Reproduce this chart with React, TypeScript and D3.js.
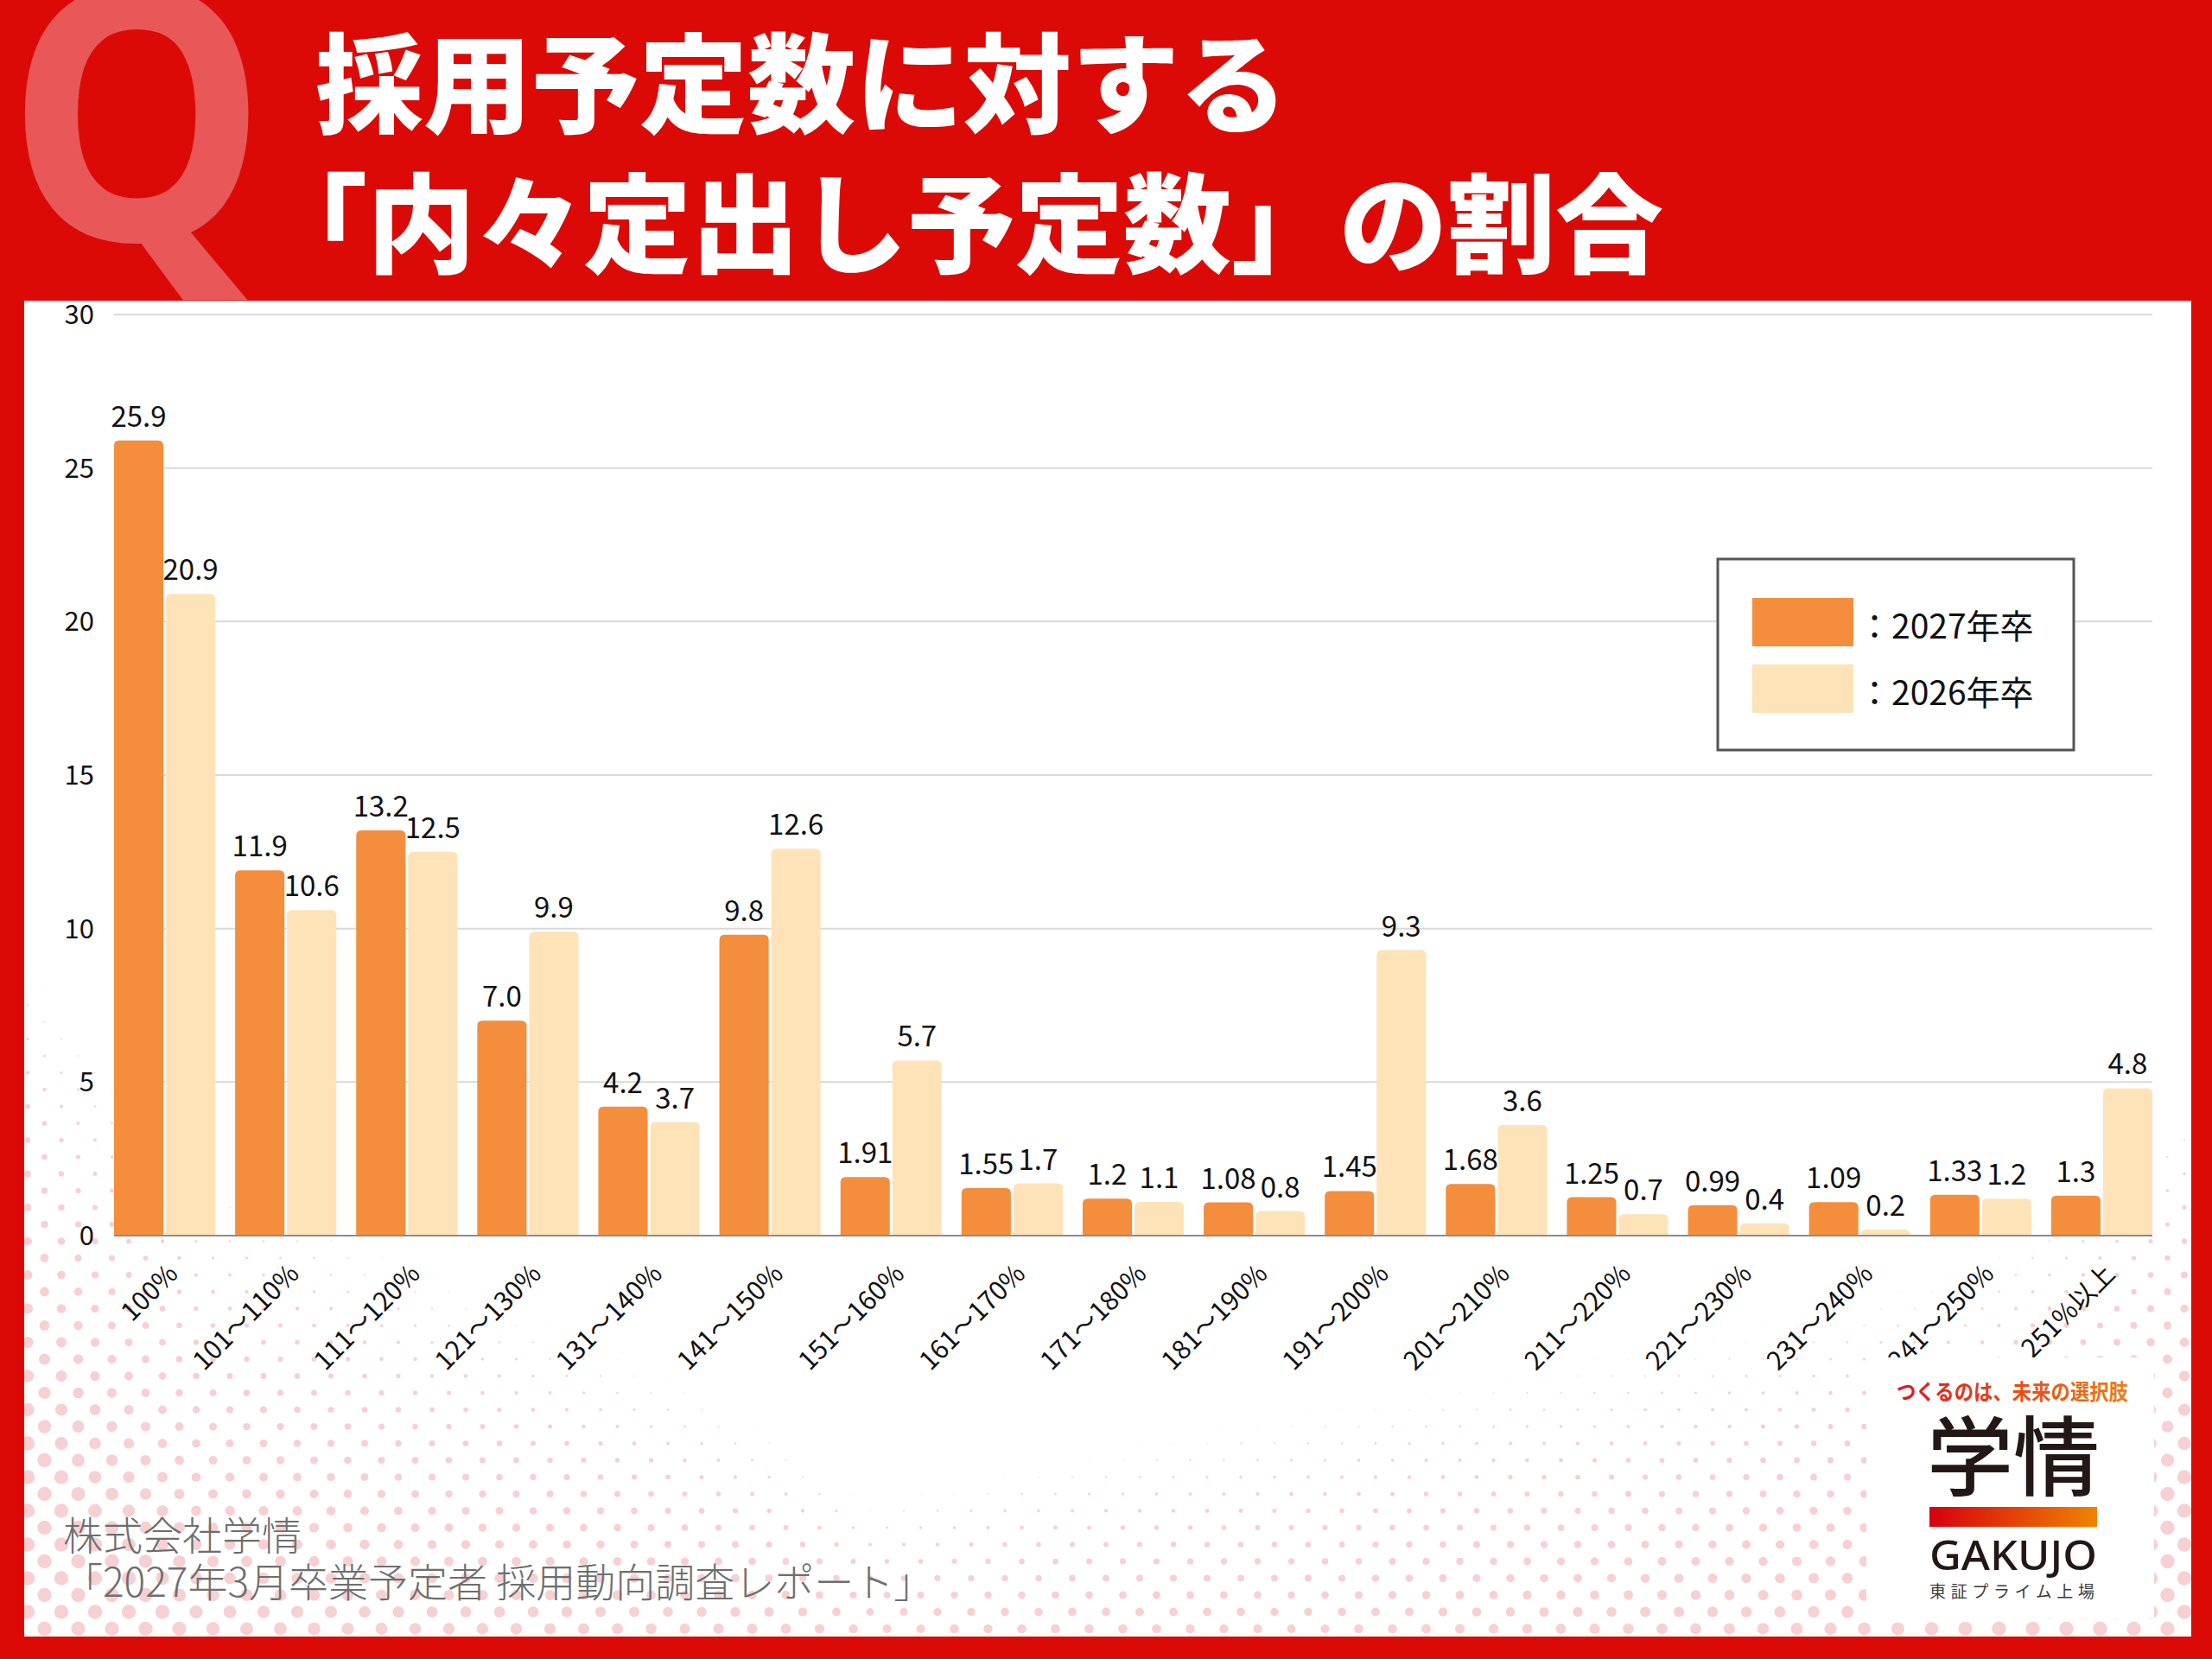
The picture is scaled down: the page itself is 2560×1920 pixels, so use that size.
import React, { useMemo } from 'react';
import * as d3 from 'd3';

// ---- chart data ----
const categories = [
  '100%', '101～110%', '111～120%', '121～130%', '131～140%', '141～150%',
  '151～160%', '161～170%', '171～180%', '181～190%', '191～200%', '201～210%',
  '211～220%', '221～230%', '231～240%', '241～250%', '251%以上',
];
const pct2027 = ['25.9', '11.9', '13.2', '7.0', '4.2', '9.8', '1.91', '1.55', '1.2', '1.08', '1.45', '1.68', '1.25', '0.99', '1.09', '1.33', '1.3'];
const pct2026 = ['20.9', '10.6', '12.5', '9.9', '3.7', '12.6', '5.7', '1.7', '1.1', '0.8', '9.3', '3.6', '0.7', '0.4', '0.2', '1.2', '4.8'];
const seriesNames = ['2027年卒', '2026年卒'];
const seriesColors = ['#F48E3C', '#FEE3B8'];
const yTicks = [0, 5, 10, 15, 20, 25, 30];

// ---- decoration: halftone dots (start height & growth sampled along x) ----
const haloX = [28, 112, 230, 347, 503, 800, 1010, 1500, 2000, 2280, 2400, 2455, 2536];
const haloY0 = [1075, 1187, 1330, 1361, 1439, 1580, 1725, 1607, 1520, 1441, 1353, 1322, 1257];
const haloK = [0.014, 0.014, 0.014, 0.014, 0.015, 0.02, 0.031, 0.018, 0.018, 0.018, 0.0167, 0.0174, 0.019];

const W = 2560;
const H = 1920;
const FONT = '"Noto Sans CJK JP", "Noto Sans", sans-serif';
const panel = { x: 28, y: 348, w: 2508, h: 1546 };

// bar with rounded top corners
const topRounded = (x: number, y: number, w: number, h: number, r: number) => {
  const rr = Math.min(r, h, w / 2);
  return `M${x},${y + h}V${y + rr}Q${x},${y} ${x + rr},${y}H${x + w - rr}Q${x + w},${y} ${x + w},${y + rr}V${y + h}Z`;
};

export default function App() {
  const x = d3.scaleBand<string>().domain(categories).range([132, 2491]).paddingInner(0.164).paddingOuter(0);
  const xs = d3.scaleBand<string>().domain(seriesNames).range([0, x.bandwidth()]).paddingInner(0.05);
  const y = d3.scaleLinear().domain([0, 30]).range([1430, 364]);
  const series = [pct2027, pct2026];

  const dots = useMemo(() => {
    const y0s = d3.scaleLinear().domain(haloX).range(haloY0).clamp(true);
    const ks = d3.scaleLinear().domain(haloX).range(haloK).clamp(true);
    const out: { cx: number; cy: number; r: number }[] = [];
    for (let j = 0; j < 50; j++) {
      const cy = 1885 - 19.5 * j;
      for (let cx = j % 2 ? 32 : 12.5; cx < 2550; cx += 39) {
        const r = Math.min(8.2, (cy - y0s(cx)) * ks(cx));
        if (r > 0.45) out.push({ cx, cy, r });
      }
    }
    return out;
  }, []);

  return (
    <div style={{ position: 'absolute', left: 0, top: 0, width: W, height: H }}>
      <svg width={W} height={H} viewBox={`0 0 ${W} ${H}`} style={{ display: 'block', fontFamily: FONT }}>
        <defs>
          <clipPath id="panelClip">
            <rect x={panel.x} y={panel.y} width={panel.w} height={panel.h} />
          </clipPath>
          <linearGradient id="logoBar" x1="0" x2="1" y1="0" y2="0">
            <stop offset="0" stopColor="#D7000F" />
            <stop offset="1" stopColor="#F08300" />
          </linearGradient>
          <linearGradient id="tagGrad" x1="0" x2="1" y1="0" y2="0">
            <stop offset="0" stopColor="#E2141B" />
            <stop offset="1" stopColor="#EE7D10" />
          </linearGradient>
        </defs>

        {/* background and header */}
        <rect x={0} y={0} width={W} height={H} fill="#DC0A06" />
        <text
          transform="translate(8,278) scale(0.95,1.02)"
          fontFamily='"Noto Sans", sans-serif'
          fontWeight={700}
          fontSize={400}
          fill="#E85858"
        >
          Q
        </text>
        <text x={365} y={144} fontSize={125} fontWeight={900} fill="#fff">採用予定数に対する</text>
        <text x={300} y={306} fontSize={125} fontWeight={900} fill="#fff">「内々定出し予定数」の割合</text>

        {/* white panel */}
        <rect x={panel.x} y={panel.y} width={panel.w} height={panel.h} fill="#fff" />
        <g clipPath="url(#panelClip)">
          {dots.map((d, i) => (
            <circle key={i} cx={d.cx} cy={d.cy} r={d.r} fill="#F7D0D3" />
          ))}
        </g>

        {/* grid + y ticks */}
        <g>
          {yTicks.map((t) => (
            <g key={t}>
              {t > 0 && <line x1={132} x2={2491} y1={y(t)} y2={y(t)} stroke="#D9D9D9" strokeWidth={2} />}
              <text x={109} y={y(t)} dy="0.35em" textAnchor="end" fontSize={31} fill="#111">
                {t}
              </text>
            </g>
          ))}
        </g>

        {/* bars */}
        <g>
          {categories.map((c, i) => (
            <g key={c} transform={`translate(${x(c)},0)`}>
              {series.map((s, k) => {
                const v = +s[i];
                const bx = xs(seriesNames[k]) as number;
                const bw = xs.bandwidth();
                return (
                  <g key={k}>
                    <path d={topRounded(bx, y(v), bw, y(0) - y(v), 6)} fill={seriesColors[k]} />
                    <text x={bx + bw / 2} y={y(v) - 16} textAnchor="middle" fontSize={33} fill="#111">
                      {s[i]}
                    </text>
                  </g>
                );
              })}
            </g>
          ))}
        </g>
        <line x1={132} x2={2491} y1={y(0)} y2={y(0)} stroke="#8C8C8C" strokeWidth={2} />

        {/* x labels */}
        <g>
          {categories.map((c) => (
            <text
              key={c}
              transform={`translate(${(x(c) as number) + x.bandwidth() / 2 + 17},1476) rotate(-45)`}
              textAnchor="end"
              fontSize={30}
              fill="#111"
            >
              {c}
            </text>
          ))}
        </g>

        {/* legend */}
        <g>
          <rect x={1988} y={647} width={412} height={221} fill="#fff" stroke="#555" strokeWidth={3} />
          {seriesNames.map((n, k) => (
            <g key={n} transform={`translate(2028,${692 + k * 77})`}>
              <rect width={117} height={56} fill={seriesColors[k]} />
              <text x={122} y={47} fontSize={39} fill="#111">
                {'：' + n}
              </text>
            </g>
          ))}
        </g>

        {/* source */}
        <text x={73} y={1794} fontSize={46} fontWeight={300} fill="#6E6E6E">株式会社学情</text>
        <text x={73} y={1848} fontSize={46} fontWeight={300} fill="#6E6E6E">
          「2027年3月卒業予定者 採用動向調査レポート」
        </text>

        {/* logo */}
        <g>
          <rect x={2160} y={1571} width={333} height={302} fill="#fff" />
          <text x={2195} y={1620} fontSize={25} fontWeight={700} fill="url(#tagGrad)" textLength={268} lengthAdjust="spacingAndGlyphs">
            つくるのは、未来の選択肢
          </text>
          <text x={2330} y={1723} textAnchor="middle" fontSize={100} fontWeight={500} fill="#231815">
            学情
          </text>
          <rect x={2233} y={1744} width={194} height={23} fill="url(#logoBar)" />
          <text x={2233} y={1817} fontSize={48} fontWeight={500} fontFamily='"Noto Sans", sans-serif' fill="#231815" textLength={194} lengthAdjust="spacingAndGlyphs">
            GAKUJO
          </text>
          <text x={2233} y={1849} fontSize={19} fill="#3E3A39" textLength={191} lengthAdjust="spacing">
            東証プライム上場
          </text>
        </g>
      </svg>
    </div>
  );
}
